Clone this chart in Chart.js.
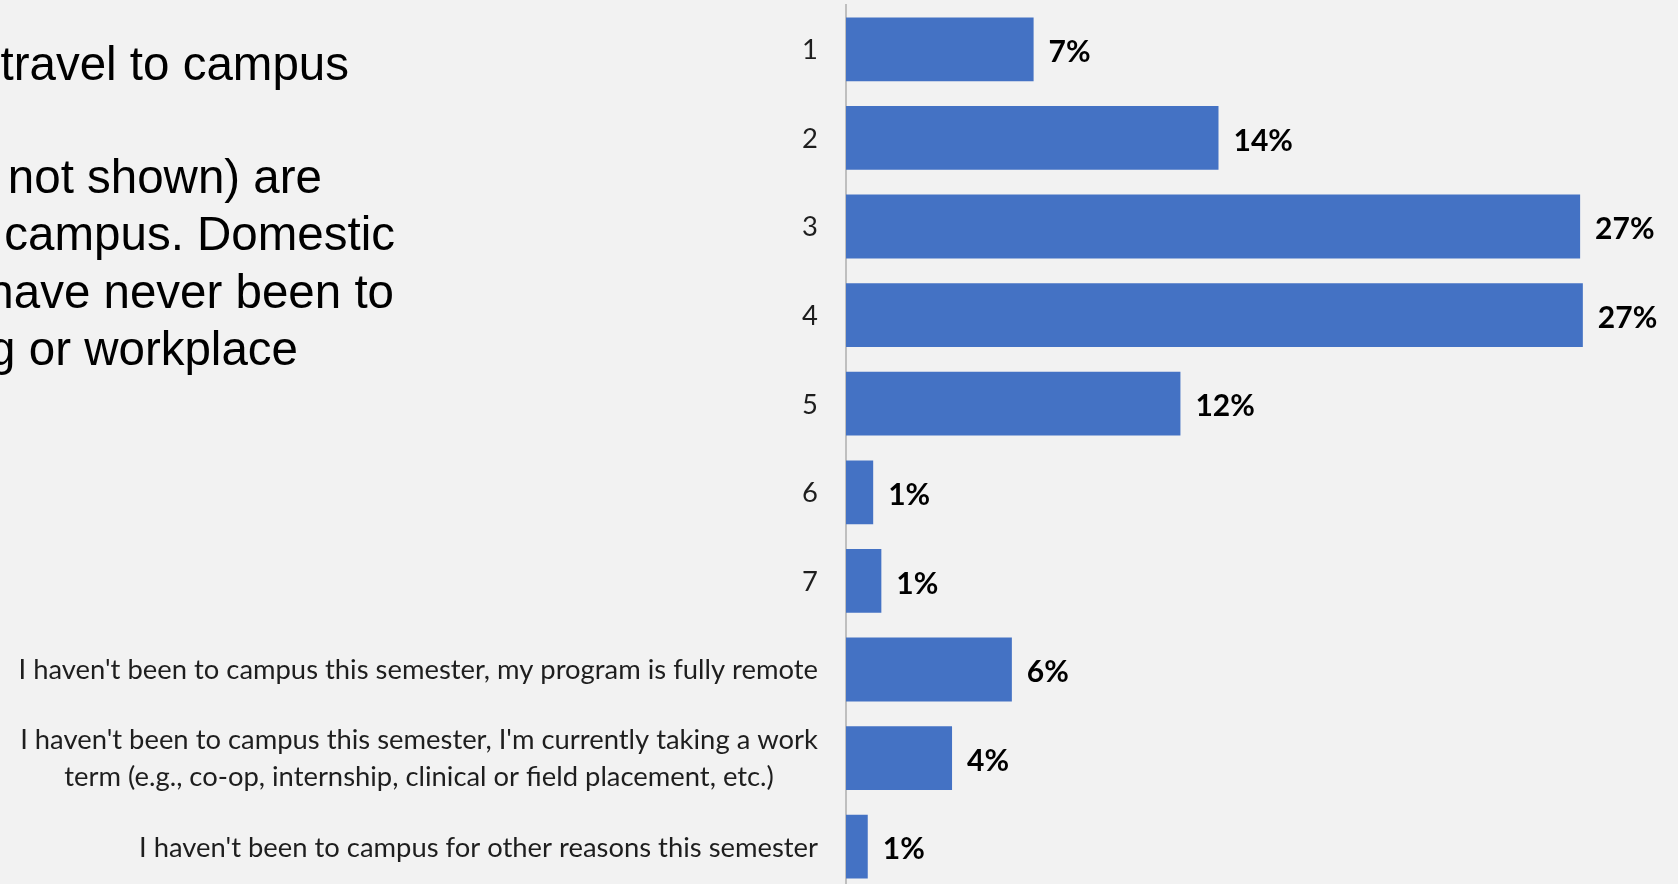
<!DOCTYPE html>
<html>
<head>
<meta charset="utf-8">
<script src="https://cdn.jsdelivr.net/npm/chart.js@4/dist/chart.umd.min.js"></script>
<style>
  html, body { margin: 0; padding: 0; background: #F2F2F2; overflow: hidden; width: 1678px; height: 884px; }
  #wrap { position: absolute; left: 0; top: 0; width: 1678px; height: 892px; }
  .note { position: absolute; font-family: "Liberation Sans", Arial, sans-serif; font-size: 47.5px; line-height: 47px; color: #000; white-space: nowrap; text-align: right; }
</style>
</head>
<body>
<div id="wrap"><canvas id="barChart"></canvas></div>

<!-- slide text, cut off at the left edge -->
<div class="note" style="right:1329px; top:40px;">travel to campus</div>
<div class="note" style="right:1356px; top:153px;">not shown) are</div>
<div class="note" style="right:1283px; top:210px;">campus. Domestic</div>
<div class="note" style="right:1284px; top:268px;">have never been to</div>
<div class="note" style="right:1380px; top:325px;">g or workplace</div>

<script>
var barcolor = "#4472C4";

const categories = [
    '1', '2', '3', '4', '5', '6', '7',
    "I haven't been to campus this semester, my program is fully remote",
    ["I haven't been to campus this semester, I'm currently taking a work",
     "term (e.g., co-op, internship, clinical or field placement, etc.)"],
    "I haven't been to campus for other reasons this semester"
];
const shares = [6.9, 13.7, 27.0, 27.1, 12.3, 1.0, 1.3, 6.1, 3.9, 0.8];
const xMax = 30.6;

// category labels: right edge next to the axis, multi-line ones centred
const categoryLabels = {
    id: 'categoryLabels',
    afterDraw(chart) {
        const ctx = chart.ctx;
        const y = chart.scales.y;
        const right = chart.chartArea.left - 28;
        ctx.save();
        ctx.font = '27.4px Lato';
        ctx.fillStyle = '#1e1e1e';
        ctx.textAlign = 'center';
        ctx.textBaseline = 'middle';
        categories.forEach((label, i) => {
            const lines = [].concat(label);
            const blockW = Math.max(...lines.map(l => ctx.measureText(l).width));
            const yc = y.getPixelForValue(i) + 1;
            lines.forEach((l, k) => {
                ctx.fillText(l, right - blockW / 2, yc + (k - (lines.length - 1) / 2) * 37);
            });
        });
        ctx.restore();
    }
};

// percentage labels at bar ends
const valueLabels = {
    id: 'valueLabels',
    afterDatasetsDraw(chart) {
        const ctx = chart.ctx;
        const meta = chart.getDatasetMeta(0);
        ctx.save();
        ctx.font = 'bold 30px Lato';
        ctx.fillStyle = '#000';
        ctx.textAlign = 'left';
        ctx.textBaseline = 'middle';
        meta.data.forEach((bar, i) => {
            ctx.fillText(Math.round(shares[i]) + '%', bar.x + 15, bar.y + 3);
        });
        ctx.restore();
    }
};

function loadBarChart() {
    const data = {
        labels: categories,
        datasets: [{
            data: shares,
            backgroundColor: barcolor,
            borderWidth: 0,
            categoryPercentage: 1,
            barPercentage: 0.72
        }]
    };
    return {
        type: 'bar',
        data: data,
        plugins: [categoryLabels, valueLabels],
        options: {
            indexAxis: 'y',
            responsive: true,
            maintainAspectRatio: false,
            animation: false,
            layout: { padding: { top: 5, bottom: 1, left: 0, right: 0 } },
            plugins: {
                legend: { display: false },
                tooltip: { enabled: false }
            },
            scales: {
                x: { display: false, min: 0, max: xMax },
                y: {
                    grid: { display: false, drawTicks: false },
                    border: { display: true, color: '#BFBFBF', width: 2 },
                    ticks: { display: false },
                    afterFit: function (scale) { scale.width = 846; }
                }
            }
        }
    };
}

Promise.all([
    document.fonts.load('27px Lato'),
    document.fonts.load('bold 30px Lato')
]).catch(() => {}).then(() => {
    new Chart(document.getElementById('barChart'), loadBarChart());
});
</script>
</body>
</html>
